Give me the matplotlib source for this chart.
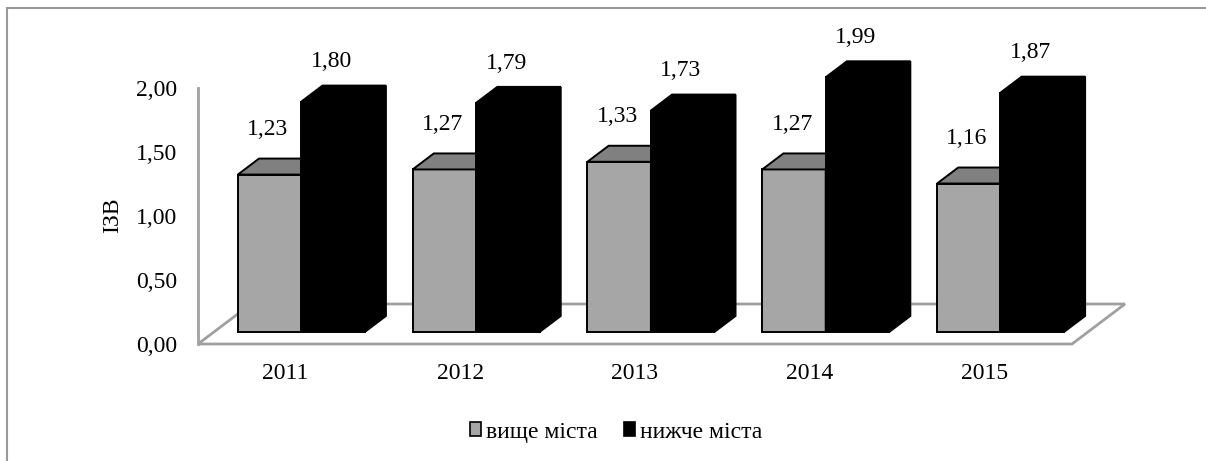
import matplotlib.pyplot as plt
from matplotlib.patches import Polygon, Rectangle, Patch

years = ['2011', '2012', '2013', '2014', '2015']
upper = [1.23, 1.27, 1.33, 1.27, 1.16]   # вище міста
lower = [1.80, 1.79, 1.73, 1.99, 1.87]   # нижче міста
yticks = [0.0, 0.5, 1.0, 1.5, 2.0]

plt.rcParams['font.family'] = ['Liberation Serif', 'DejaVu Serif']
FS = 17

# depth of the floor in data units, and where the bars sit inside it
DX, DV = 0.303, 0.3125
D0, D1 = 0.3, 0.7
W = 0.363


def proj(x, v, d):
    return (x + d * DX, v + d * DV)


def bar3d(ax, xl, xr, h, front, top, side):
    faces = [
        ([proj(xl, 0, D0), proj(xr, 0, D0), proj(xr, h, D0), proj(xl, h, D0)], front),
        ([proj(xl, h, D0), proj(xr, h, D0), proj(xr, h, D1), proj(xl, h, D1)], top),
        ([proj(xr, 0, D0), proj(xr, 0, D1), proj(xr, h, D1), proj(xr, h, D0)], side),
    ]
    for pts, c in faces:
        ax.add_patch(Polygon(pts, closed=True, facecolor=c, edgecolor='black',
                             linewidth=1.4, joinstyle='miter', clip_on=False))


fig = plt.figure(figsize=(12.06, 4.61), dpi=100)
ax = fig.add_axes([198 / 1206, 1 - 344 / 461, 927 / 1206, 256 / 461])
ax.set_xlim(-0.5, -0.5 + 927 / 174.8)
ax.set_ylim(0, 2)

# floor
n = len(years)
floor = [proj(-0.5, 0, 0), proj(n - 0.5, 0, 0), proj(n - 0.5, 0, 1), proj(-0.5, 0, 1)]
ax.add_patch(Polygon(floor, closed=True, facecolor='white', edgecolor='#a0a0a0',
                     linewidth=2, clip_on=False, zorder=0.5))

for i in range(n):
    bar3d(ax, i - W, i, upper[i], '#a6a6a6', '#808080', '#808080')
    bar3d(ax, i, i + W, lower[i], 'black', 'black', 'black')
    for xl, h, off in [(i - W, upper[i], 0.35), (i, lower[i], 0.31)]:
        x, v = proj(xl + W / 2, h, D0)
        ax.text(x - 0.01, v + off, f'{h:.2f}'.replace('.', ','), ha='center',
                va='center', fontsize=FS)

for s in ['top', 'right', 'bottom']:
    ax.spines[s].set_visible(False)
ax.spines['left'].set_color('#a0a0a0')
ax.spines['left'].set_linewidth(2)

ax.set_yticks(yticks)
ax.set_yticklabels([f'{t:.2f}'.replace('.', ',') for t in yticks])
ax.set_xticks(range(n))
ax.set_xticklabels(years)
ax.tick_params(axis='y', length=0, pad=15, labelsize=FS)
ax.tick_params(axis='x', length=0, pad=14, labelsize=FS)
ax.set_ylabel('ІЗВ', fontsize=FS, va='center')
ax.yaxis.set_label_coords((113 - 198) / 927, (344 - 215) / 256)

handles = [Patch(facecolor='#a6a6a6', edgecolor='black', linewidth=1.2),
           Patch(facecolor='black', edgecolor='black', linewidth=1.2)]
fig.legend(handles, ['вище міста', 'нижче міста'], loc='center',
           bbox_to_anchor=(616 / 1206, 1 - 432 / 461), ncol=2, frameon=False,
           fontsize=FS, handlelength=0.5, handleheight=0.5, handletextpad=0.2,
           columnspacing=1.1)

# outer chart border (only left/top visible in the crop)
fig.add_artist(Rectangle((7 / 1206, -0.1), 1.2, 1 - 8 / 461 + 0.1,
                         transform=fig.transFigure, fill=False,
                         edgecolor='#999999', linewidth=1.5))

fig.savefig('out.png', dpi=100)
